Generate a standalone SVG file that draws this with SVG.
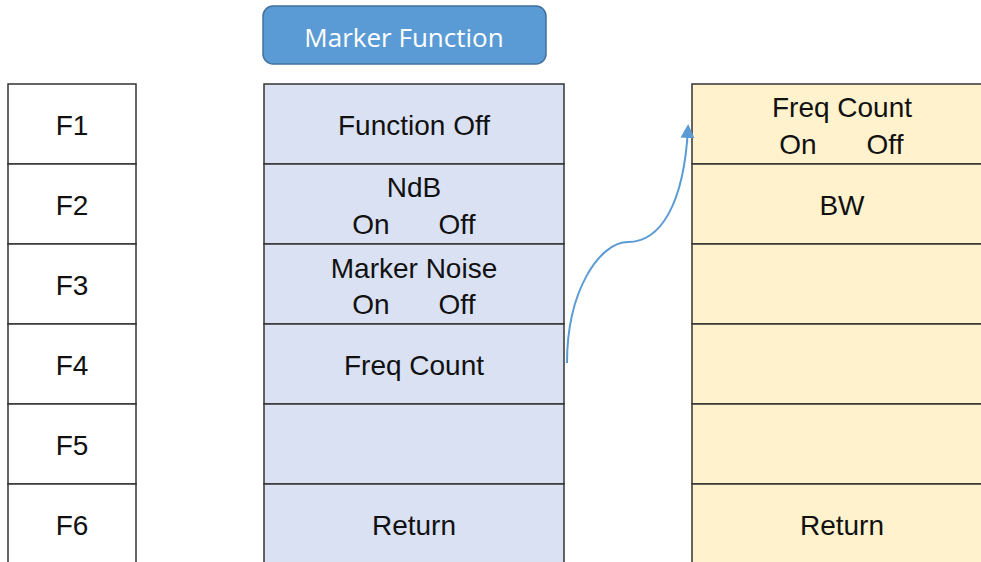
<svg xmlns="http://www.w3.org/2000/svg" width="981" height="562" viewBox="0 0 981 562">
<style>
.c{stroke:#333;stroke-width:1.5}
.l{fill:#fff}
.m{fill:#dae1f3}
.r{fill:#fff2cc}
text{font-family:"Liberation Sans",Arial,sans-serif;font-size:28px;fill:#111;text-anchor:middle}
.btn{font-family:"Open Sans","Noto Sans",sans-serif;font-size:26px;fill:#fff}
</style>
<defs>
<marker id="ah" markerWidth="14" markerHeight="14" refX="10" refY="7" orient="auto" markerUnits="userSpaceOnUse" viewBox="0 0 14 14">
<path d="M0,0 L14,7 L0,14 z" fill="#5b9bd5"/>
</marker>
</defs>
<g id="btn">
<rect x="263" y="6" width="283" height="58" rx="10" fill="#5b9bd5" stroke="#41719c" stroke-width="1.5"/>
<text class="btn" x="404" y="47">Marker Function</text>
</g>
<g id="left">
<g id="F1"><rect class="c l" x="8" y="84" width="128" height="80"/><text x="72" y="135">F1</text></g>
<g id="F2"><rect class="c l" x="8" y="164" width="128" height="80"/><text x="72" y="215">F2</text></g>
<g id="F3"><rect class="c l" x="8" y="244" width="128" height="80"/><text x="72" y="295">F3</text></g>
<g id="F4"><rect class="c l" x="8" y="324" width="128" height="80"/><text x="72" y="375">F4</text></g>
<g id="F5"><rect class="c l" x="8" y="404" width="128" height="80"/><text x="72" y="455">F5</text></g>
<g id="F6"><rect class="c l" x="8" y="484" width="128" height="80"/><text x="72" y="535">F6</text></g>
</g>
<g id="mid">
<g id="m1"><rect class="c m" x="264" y="84" width="300" height="80"/><text x="414" y="135">Function Off</text></g>
<g id="m2"><rect class="c m" x="264" y="164" width="300" height="80"/><text x="414" y="197">NdB</text><text x="371" y="234">On</text><text x="457" y="234">Off</text></g>
<g id="m3"><rect class="c m" x="264" y="244" width="300" height="80"/><text x="414" y="278">Marker Noise</text><text x="371" y="314">On</text><text x="457" y="314">Off</text></g>
<g id="m4"><rect class="c m" x="264" y="324" width="300" height="80"/><text x="414" y="375">Freq Count</text></g>
<g id="m5"><rect class="c m" x="264" y="404" width="300" height="80"/></g>
<g id="m6"><rect class="c m" x="264" y="484" width="300" height="80"/><text x="414" y="535">Return</text></g>
</g>
<g id="right">
<g id="r1"><rect class="c r" x="692" y="84" width="300" height="80"/><text x="842" y="117">Freq Count</text><text x="798" y="154">On</text><text x="885" y="154">Off</text></g>
<g id="r2"><rect class="c r" x="692" y="164" width="300" height="80"/><text x="842" y="215">BW</text></g>
<g id="r3"><rect class="c r" x="692" y="244" width="300" height="80"/></g>
<g id="r4"><rect class="c r" x="692" y="324" width="300" height="80"/></g>
<g id="r5"><rect class="c r" x="692" y="404" width="300" height="80"/></g>
<g id="r6"><rect class="c r" x="692" y="484" width="300" height="80"/><text x="842" y="535">Return</text></g>
</g>
<g id="connectors">
<path d="M567,363 C567,290 600,242 628,242 C660,242 684,205 688,128" fill="none" stroke="#5b9bd5" stroke-width="2" marker-end="url(#ah)"/>
</g>
</svg>
